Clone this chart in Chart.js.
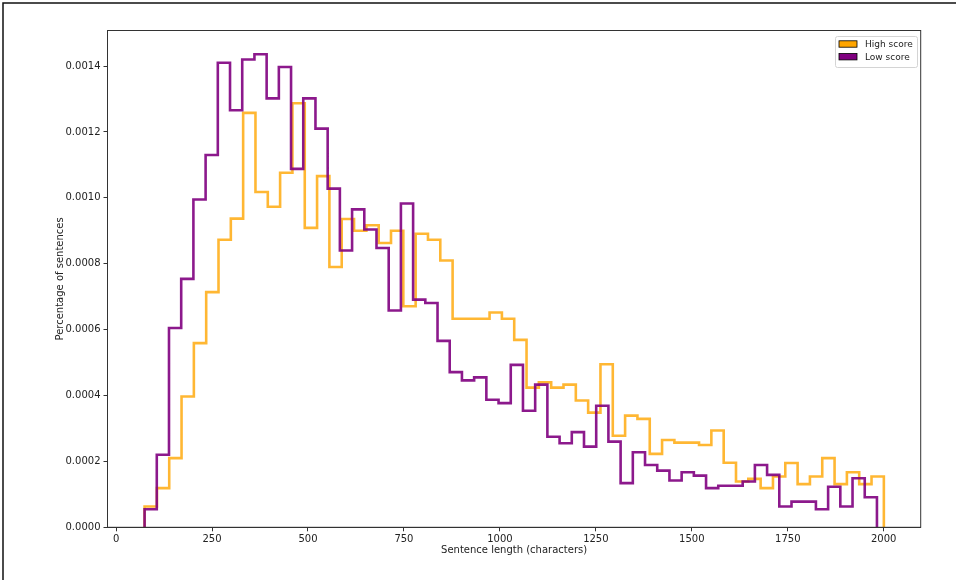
<!DOCTYPE html>
<html>
<head>
<meta charset="utf-8">
<script src="https://cdn.jsdelivr.net/npm/chart.js@4"></script>
<style>
  html, body { margin: 0; padding: 0; background: #fff; }
  #wrap { width: 956px; height: 580px; }
</style>
</head>
<body>
<div id="wrap"><canvas id="hist" width="956" height="580"></canvas></div>
<script>
// histogram bins (x in characters), 60 bins each
const highStart = 74.3;
const highWidth = 32.1;
const lowStart = 74.3;
const lowWidth = 31.8;

const highScore = [
  6.3e-5, 1.19e-4, 2.1e-4, 3.97e-4, 5.59e-4, 7.14e-4, 8.73e-4, 9.37e-4, 1.258e-3, 1.018e-3,
  9.73e-4, 1.076e-3, 1.287e-3, 9.09e-4, 1.066e-3, 7.9e-4, 9.36e-4, 9.0e-4, 9.17e-4, 8.63e-4,
  9.0e-4, 6.71e-4, 8.91e-4, 8.73e-4, 8.1e-4, 6.33e-4, 6.33e-4, 6.33e-4, 6.52e-4, 6.33e-4,
  5.69e-4, 4.24e-4, 4.4e-4, 4.24e-4, 4.33e-4, 3.85e-4, 3.48e-4, 4.95e-4, 2.78e-4, 3.39e-4,
  3.29e-4, 2.23e-4, 2.65e-4, 2.57e-4, 2.57e-4, 2.5e-4, 2.94e-4, 1.96e-4, 1.39e-4, 1.47e-4,
  1.19e-4, 1.54e-4, 1.95e-4, 1.31e-4, 1.54e-4, 2.1e-4, 1.31e-4, 1.67e-4, 1.31e-4, 1.54e-4,
];

const lowScore = [
  5.5e-5, 2.2e-4, 6.05e-4, 7.54e-4, 9.95e-4, 1.13e-3, 1.41e-3, 1.266e-3, 1.42e-3, 1.436e-3,
  1.302e-3, 1.397e-3, 1.088e-3, 1.302e-3, 1.21e-3, 1.028e-3, 8.4e-4, 9.65e-4, 9.04e-4, 8.48e-4,
  6.58e-4, 9.83e-4, 6.91e-4, 6.81e-4, 5.66e-4, 4.71e-4, 4.46e-4, 4.55e-4, 3.87e-4, 3.77e-4,
  4.93e-4, 3.54e-4, 4.33e-4, 2.75e-4, 2.55e-4, 2.89e-4, 2.45e-4, 3.69e-4, 2.6e-4, 1.34e-4,
  2.28e-4, 1.89e-4, 1.72e-4, 1.42e-4, 1.67e-4, 1.57e-4, 1.19e-4, 1.26e-4, 1.26e-4, 1.39e-4,
  1.89e-4, 1.59e-4, 6.3e-5, 7.8e-5, 7.8e-5, 5.5e-5, 1.23e-4, 6.3e-5, 1.49e-4, 9.1e-5,
];

const xTicks = [0, 250, 500, 750, 1000, 1250, 1500, 1750, 2000];
const yTicks = [0, 0.0002, 0.0004, 0.0006, 0.0008, 0.001, 0.0012, 0.0014];

const axisColor = "#333";
const textColor = "#222";

// outline of a step histogram: up at the first edge, down at the last
const stepPoints = (start, width, heights) => {
  const pts = [{ x: start, y: 0 }];
  heights.forEach((h, i) => pts.push({ x: start + i * width, y: h }));
  pts.push({ x: start + heights.length * width, y: 0 });
  return pts;
};

Chart.defaults.font.family = "'DejaVu Sans', sans-serif";
Chart.defaults.font.size = 10;
Chart.defaults.color = textColor;

const framePlugin = {
  id: "frame",
  beforeDraw(chart) {
    const c = chart.ctx;
    c.save();
    c.fillStyle = "#fff";
    c.fillRect(0, 0, chart.width, chart.height);
    c.strokeStyle = "#111";
    c.lineWidth = 1.5;
    c.beginPath();
    c.moveTo(3, chart.height);
    c.lineTo(3, 3);
    c.lineTo(chart.width, 3);
    c.stroke();
    c.restore();
  },
  afterDraw(chart) {
    const c = chart.ctx;
    const a = chart.chartArea;
    c.save();
    // top and right spines
    c.strokeStyle = axisColor;
    c.lineWidth = 1;
    c.strokeRect(a.left, a.top, a.right - a.left, a.bottom - a.top);

    // legend box, top right
    const bx = 835, by = 36, bw = 82, bh = 31;
    c.fillStyle = "rgba(255,255,255,0.8)";
    c.strokeStyle = "#d4d4d4";
    c.beginPath();
    c.roundRect(bx + 0.5, by + 0.5, bw, bh, 2);
    c.fill();
    c.stroke();
    chart.data.datasets.forEach((ds, i) => {
      const y = by + 8 + i * 12.7;
      c.fillStyle = ds.legendFill;
      c.fillRect(bx + 4, y - 3.2, 18, 6.4);
      c.strokeStyle = "#000";
      c.lineWidth = 0.8;
      c.strokeRect(bx + 4, y - 3.2, 18, 6.4);
      c.fillStyle = textColor;
      c.textBaseline = "middle";
      c.textAlign = "left";
      c.font = "9px 'DejaVu Sans', sans-serif";
      c.fillText(ds.label, bx + 30, y + 0.5);
    });
    c.restore();
  },
};

new Chart(document.getElementById("hist"), {
  type: "line",
  data: {
    datasets: [
      {
        label: "High score",
        data: stepPoints(highStart, highWidth, highScore),
        borderColor: "rgba(255,165,0,0.8)",
        legendFill: "#ffa500",
        borderWidth: 2.6,
        stepped: "before",
        pointRadius: 0,
        fill: false,
        order: 1,
      },
      {
        label: "Low score",
        data: stepPoints(lowStart, lowWidth, lowScore),
        borderColor: "rgba(128,0,128,0.9)",
        legendFill: "#800080",
        borderWidth: 2.6,
        stepped: "before",
        pointRadius: 0,
        fill: false,
        order: 0,
      },
    ],
  },
  options: {
    responsive: false,
    animation: false,
    layout: {
      padding: { left: 50, top: 30.5, right: 35.3, bottom: 19.3 },
    },
    plugins: {
      legend: { display: false },
      tooltip: { enabled: false },
    },
    scales: {
      x: {
        type: "linear",
        min: -22.3,
        max: 2096.3,
        afterBuildTicks: (scale) => {
          scale.ticks = xTicks.map((v) => ({ value: v }));
        },
        afterFit: (scale) => {
          scale.height = 33.4;
        },
        grid: {
          drawOnChartArea: false,
          drawTicks: true,
          tickLength: 4,
          color: axisColor,
        },
        border: { color: axisColor, width: 1 },
        ticks: {
          padding: 2,
          color: textColor,
          maxRotation: 0,
          callback: (v) => String(v),
        },
        title: {
          display: true,
          text: "Sentence length (characters)",
          color: textColor,
          padding: { top: 4, bottom: 4 },
        },
      },
      y: {
        min: 0,
        max: 0.001508,
        afterBuildTicks: (scale) => {
          scale.ticks = yTicks.map((v) => ({ value: v }));
        },
        afterFit: (scale) => {
          scale.width = 57.5;
        },
        grid: {
          drawOnChartArea: false,
          drawTicks: true,
          tickLength: 4,
          color: axisColor,
        },
        border: { color: axisColor, width: 1 },
        ticks: {
          padding: 3,
          color: textColor,
          callback: (v) => v.toFixed(4),
        },
        title: {
          display: true,
          text: "Percentage of sentences",
          color: textColor,
          padding: { top: 4, bottom: 4 },
        },
      },
    },
  },
  plugins: [framePlugin],
});
</script>
</body>
</html>
